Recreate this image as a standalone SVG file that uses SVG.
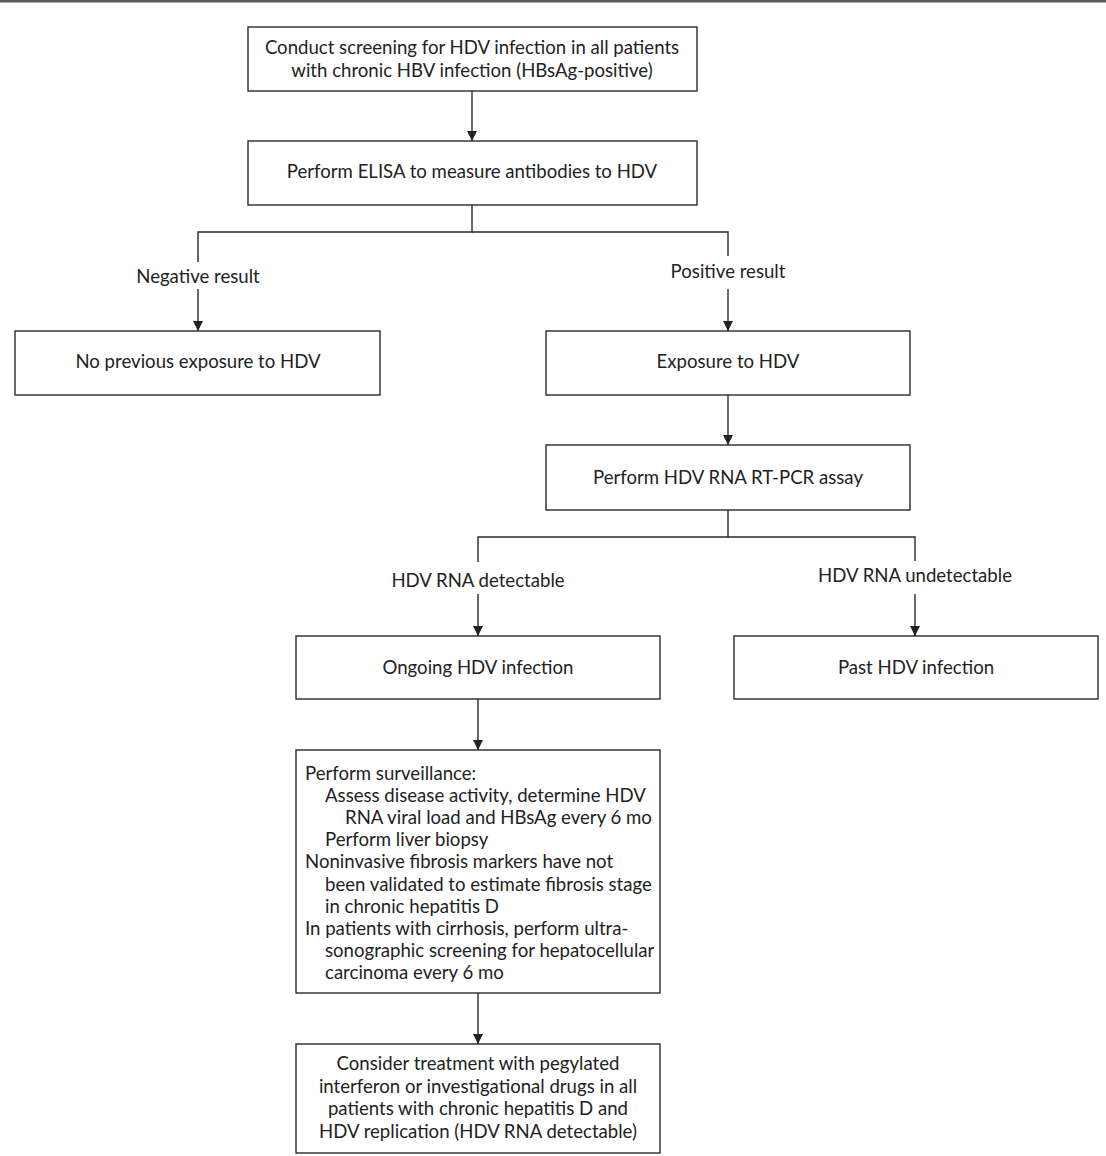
<svg xmlns="http://www.w3.org/2000/svg" width="1106" height="1156" viewBox="0 0 1106 1156">
<style>
.box{fill:#fff;stroke:#2a2a2a;stroke-width:1.4}
.ln{fill:none;stroke:#2a2a2a;stroke-width:1.4}
text{font-family:Lato,"Liberation Sans",sans-serif;font-size:18.6px;fill:#222}
.c{text-anchor:middle}
</style>
<defs>
<marker id="ah" viewBox="0 0 10 16" refX="10" refY="8" markerWidth="10" markerHeight="16" markerUnits="userSpaceOnUse" orient="auto">
<path d="M0,3 L10,8 L0,13 Z" fill="#222"/>
</marker>
</defs>
<rect x="0" y="0" width="1106" height="2.5" fill="#5a5a5a"/>
<g id="connectors">
<line class="ln" x1="472" y1="91" x2="472" y2="141" marker-end="url(#ah)"/>
<polyline class="ln" points="472,205 472,232 198,232 198,262"/>
<polyline class="ln" points="472,232 728,232 728,256"/>
<line class="ln" x1="198" y1="289" x2="198" y2="331" marker-end="url(#ah)"/>
<line class="ln" x1="728" y1="289" x2="728" y2="331" marker-end="url(#ah)"/>
<line class="ln" x1="728" y1="395" x2="728" y2="445" marker-end="url(#ah)"/>
<polyline class="ln" points="728,510 728,537 478,537 478,562"/>
<polyline class="ln" points="728,537 915,537 915,561"/>
<line class="ln" x1="478" y1="594" x2="478" y2="636" marker-end="url(#ah)"/>
<line class="ln" x1="915" y1="594" x2="915" y2="636" marker-end="url(#ah)"/>
<line class="ln" x1="478" y1="699" x2="478" y2="750" marker-end="url(#ah)"/>
<line class="ln" x1="478" y1="993" x2="478" y2="1044" marker-end="url(#ah)"/>
<text class="c" x="198" y="283">Negative result</text>
<text class="c" x="728" y="278">Positive result</text>
<text class="c" x="478" y="587">HDV RNA detectable</text>
<text class="c" x="915" y="582">HDV RNA undetectable</text>
</g>
<g id="n1">
<rect class="box" x="248" y="27" width="449" height="64"/>
<text class="c" x="472" y="54">Conduct screening for HDV infection in all patients</text>
<text class="c" x="472" y="77">with chronic HBV infection (HBsAg-positive)</text>
</g>
<g id="n2">
<rect class="box" x="248" y="141" width="449" height="64"/>
<text class="c" x="472" y="178">Perform ELISA to measure antibodies to HDV</text>
</g>
<g id="n3">
<rect class="box" x="15" y="331" width="365" height="64"/>
<text class="c" x="198" y="368">No previous exposure to HDV</text>
</g>
<g id="n4">
<rect class="box" x="546" y="331" width="364" height="64"/>
<text class="c" x="728" y="368">Exposure to HDV</text>
</g>
<g id="n5">
<rect class="box" x="546" y="445" width="364" height="65"/>
<text class="c" x="728" y="484">Perform HDV RNA RT-PCR assay</text>
</g>
<g id="n6">
<rect class="box" x="296" y="636" width="364" height="63"/>
<text class="c" x="478" y="674">Ongoing HDV infection</text>
</g>
<g id="n7">
<rect class="box" x="734" y="636" width="364" height="63"/>
<text class="c" x="916" y="674">Past HDV infection</text>
</g>
<g id="n8">
<rect class="box" x="296" y="750" width="364" height="243"/>
<text x="305" y="780">Perform surveillance:</text>
<text x="325" y="802">Assess disease activity, determine HDV</text>
<text x="345" y="824">RNA viral load and HBsAg every 6 mo</text>
<text x="325" y="846">Perform liver biopsy</text>
<text x="305" y="868">Noninvasive fibrosis markers have not</text>
<text x="325" y="891">been validated to estimate fibrosis stage</text>
<text x="325" y="913">in chronic hepatitis D</text>
<text x="305" y="935">In patients with cirrhosis, perform ultra-</text>
<text x="325" y="957">sonographic screening for hepatocellular</text>
<text x="325" y="979">carcinoma every 6 mo</text>
</g>
<g id="n9">
<rect class="box" x="296" y="1044" width="364" height="109"/>
<text class="c" x="478" y="1070">Consider treatment with pegylated</text>
<text class="c" x="478" y="1093">interferon or investigational drugs in all</text>
<text class="c" x="478" y="1115">patients with chronic hepatitis D and</text>
<text class="c" x="478" y="1138">HDV replication (HDV RNA detectable)</text>
</g>
</svg>
